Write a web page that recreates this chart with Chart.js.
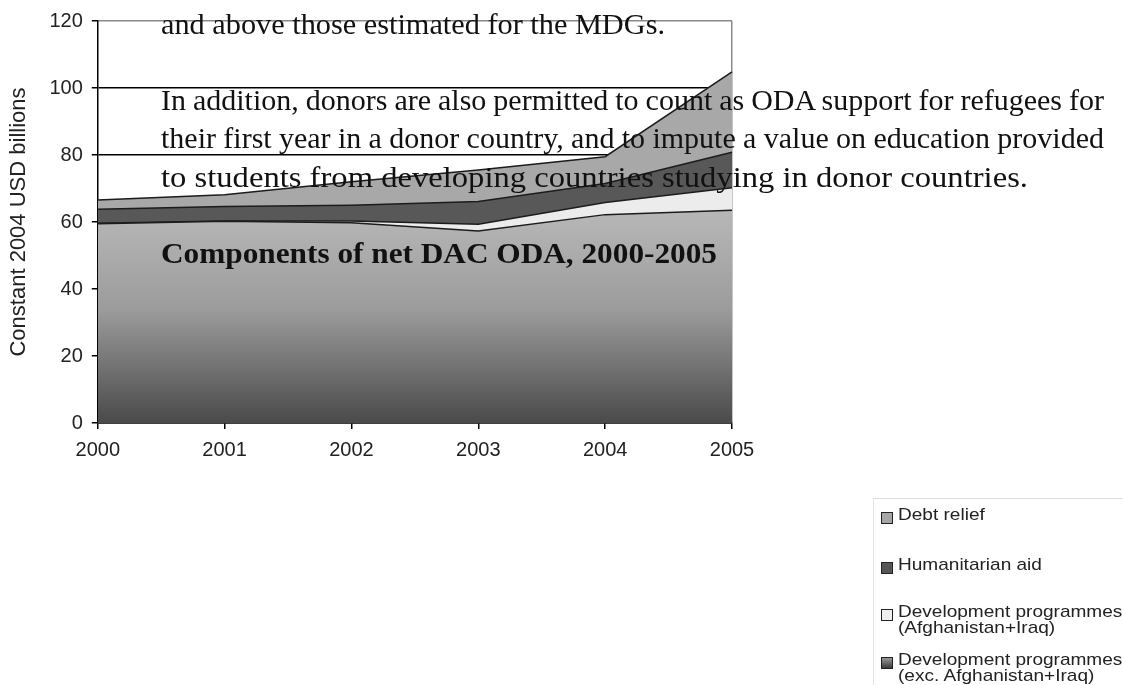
<!DOCTYPE html>
<html>
<head>
<meta charset="utf-8">
<script src="https://cdn.jsdelivr.net/npm/chart.js@4.4.1/dist/chart.umd.min.js"></script>
<style>
  html, body { margin: 0; padding: 0; background: #fff; }
  #wrap { position: relative; width: 1123px; height: 685px; overflow: hidden; }
  #odaChart { position: absolute; left: 0; top: 0; }
  .doc { position: absolute; left: 161px; white-space: nowrap; font-family: "Liberation Serif", "Times New Roman", serif;
         font-size: 30px; line-height: 30px; color: #111; transform-origin: left center; }
  .doc.bold { font-weight: bold; }
  #legend { position: absolute; left: 873px; top: 498px; width: 260px; height: 200px;
            border-top: 1px solid #ddd; border-left: 1px solid #e4e4e4; font-family: "Liberation Sans", Arial, sans-serif;
            font-size: 17px; line-height: 16px; color: #222; }
  .item { position: absolute; left: 7px; }
  .sw { position: absolute; left: 0; top: 5px; width: 10px; height: 10px; border: 1px solid #222; }
  .txt { position: absolute; left: 17px; white-space: nowrap; transform: scaleX(1.12); transform-origin: left top; }
</style>
</head>
<body>
<div id="wrap">
  <canvas id="odaChart" width="1123" height="685"></canvas>
  <div id="legend"></div>
</div>
<script>
  // years on the x axis
  var years = ["2000", "2001", "2002", "2003", "2004", "2005"];
  var yTicks = [0, 20, 40, 60, 80, 100, 120];

  // Constant 2004 USD billions
  var devExc = [59.5, 60.2, 59.8, 57.3, 62.2, 63.5];
  var devAfgIraq = [0.1, 0.1, 0.5, 2.0, 3.6, 6.7];
  var humanitarian = [4.2, 4.3, 4.7, 6.8, 5.7, 10.6];
  var debtRelief = [2.8, 3.5, 7.0, 9.4, 8.0, 24.0];

  var seriesLabels = [
    ["Development programmes", "(exc. Afghanistan+Iraq)"],
    ["Development programmes", "(Afghanistan+Iraq)"],
    ["Humanitarian aid"],
    ["Debt relief"]
  ];

  // text from the scanned page that sits over the chart
  var docLines = [
    { text: "and above those estimated for the MDGs.", base: 34, width: 504 },
    { text: "In addition, donors are also permitted to count as ODA support for refugees for", base: 110, width: 943, justify: true },
    { text: "their first year in a donor country, and to impute a value on education provided", base: 148, width: 943, justify: true },
    { text: "to students from developing countries studying in donor countries.", base: 187, width: 867 },
    { text: "Components of net DAC ODA, 2000-2005", base: 263, width: 556, bold: true }
  ];

  var fills = ["grad", "#ececec", "#585858", "#a8a8a8"];
  var swatches = ["linear-gradient(#9a9a9a,#3a3a3a)", "#efefef", "#555", "#a6a6a6"];

  function bottomFill(context) {
    var chart = context.chart;
    var area = chart.chartArea;
    if (!area) return "#999";
    var g = chart.ctx.createLinearGradient(0, area.bottom, 0, chart.scales.y.getPixelForValue(62));
    g.addColorStop(0, "#4a4a4a");
    g.addColorStop(0.55, "#9c9c9c");
    g.addColorStop(1, "#b6b6b6");
    return g;
  }

  var allData = [devExc, devAfgIraq, humanitarian, debtRelief];
  var datasets = allData.map(function (d, i) {
    return {
      label: seriesLabels[i].join(" "),
      data: d,
      fill: i === 0 ? "origin" : "-1",
      backgroundColor: fills[i] === "grad" ? bottomFill : fills[i],
      borderColor: "#1c1c1c",
      borderWidth: 1.5,
      pointRadius: 0,
      tension: 0
    };
  });

  var tickFont = { family: "'Liberation Sans', Arial, sans-serif", size: 20 };

  var chart1 = new Chart(document.getElementById("odaChart"), {
    type: "line",
    data: { labels: years, datasets: datasets },
    options: {
      responsive: false,
      animation: false,
      layout: { padding: { left: 6, right: 391, top: 13.5, bottom: 214 } },
      plugins: { legend: { display: false }, tooltip: { enabled: false } },
      scales: {
        x: {
          offset: false,
          border: { color: "#000", width: 1.5 },
          grid: {
            color: function (c) { return c.index === years.length - 1 ? "#8a8a8a" : "rgba(0,0,0,0)"; },
            lineWidth: 1.5,
            tickColor: "#000",
            tickLength: 6
          },
          ticks: { color: "#222", font: tickFont, padding: 9, maxRotation: 0 }
        },
        y: {
          stacked: true,
          min: 0,
          max: 120,
          afterBuildTicks: function (axis) { axis.ticks = yTicks.map(function (v) { return { value: v }; }); },
          border: { color: "#000", width: 1.5 },
          grid: {
            color: function (c) { return c.tick && c.tick.value === 120 ? "#8a8a8a" : "#000"; },
            lineWidth: 1.5,
            tickColor: "#000",
            tickLength: 6
          },
          ticks: { color: "#222", font: tickFont, padding: 9 },
          title: {
            display: true,
            text: "Constant 2004 USD billions",
            color: "#222",
            font: { family: "'Liberation Sans', Arial, sans-serif", size: 22 },
            padding: { top: 0, bottom: 8 }
          }
        }
      }
    }
  });

  // overlaid page text
  var wrap = document.getElementById("wrap");
  docLines.forEach(function (l) {
    var el = document.createElement("div");
    el.className = "doc" + (l.bold ? " bold" : "");
    el.textContent = l.text;
    el.style.top = (l.base - 25.1) + "px";
    wrap.appendChild(el);
    var w = el.getBoundingClientRect().width;
    if (l.justify) {
      var gaps = l.text.split(" ").length - 1;
      el.style.wordSpacing = ((l.width - w) / gaps) + "px";
      w = el.getBoundingClientRect().width;
    }
    el.style.transform = "scaleX(" + (l.width / w) + ")";
  });

  // legend, top to bottom in reverse stacking order
  var legend = document.getElementById("legend");
  var itemTops = [8, 58, 105, 153];
  for (var k = 0; k < 4; k++) {
    var idx = 3 - k;
    var item = document.createElement("div");
    item.className = "item";
    item.style.top = itemTops[k] + "px";
    var sw = document.createElement("div");
    sw.className = "sw";
    sw.style.background = swatches[idx];
    var txt = document.createElement("div");
    txt.className = "txt";
    txt.innerHTML = seriesLabels[idx].join("<br>");
    item.appendChild(sw);
    item.appendChild(txt);
    legend.appendChild(item);
  }
</script>
</body>
</html>
